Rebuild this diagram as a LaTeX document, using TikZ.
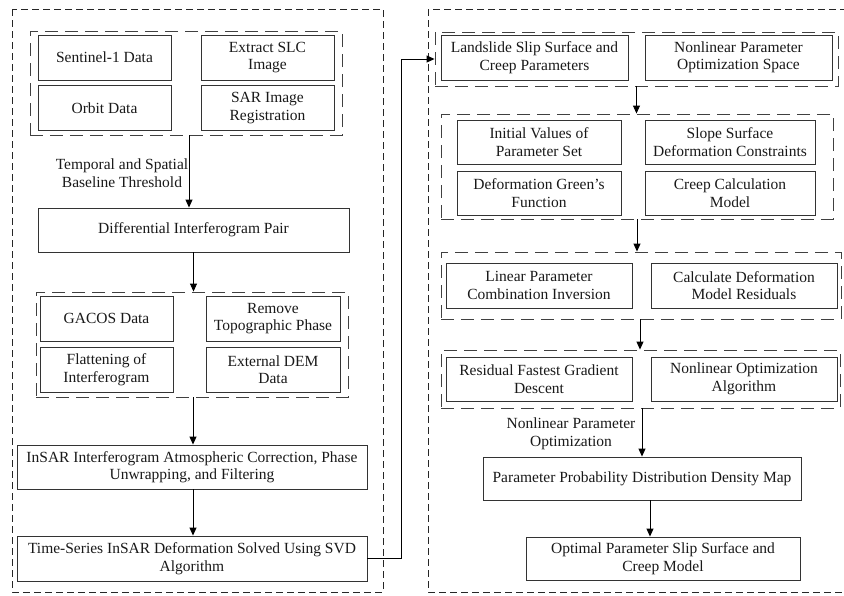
\documentclass[tikz,border=0pt]{standalone}
\usepackage{fontspec}
\setmainfont{Liberation Serif}
\usetikzlibrary{arrows.meta}
\tikzset{
  box/.style={draw=black!80,line width=0.9pt,align=center,inner sep=1pt,
    minimum width=133pt,minimum height=45pt,text=black!90,
    font=\fontsize{15.5}{17.5}\selectfont},
  grp/.style={draw=black!75,line width=0.9pt,dash pattern=on 13pt off 7pt,
    minimum width=312pt,minimum height=104pt},
  frame/.style={draw=black!85,line width=0.9pt,dash pattern=on 7pt off 4pt},
  lbl/.style={align=center,text=black!90,font=\fontsize{15.5}{17.5}\selectfont},
  arr/.style={-{Triangle[length=8pt,width=7pt]},line width=0.9pt}
}

\begin{document}
\begin{tikzpicture}[x=1pt,y=-1pt]
\useasboundingbox (0,0) rectangle (844,595);
\clip (0,0) rectangle (844,595);
\draw[frame] (12,9) rectangle (383,592);
\draw[frame] (428,9) rectangle (852,592);
% left column
\node[grp] (g1) at (186,83) {};
\node[box] (sent) at (104.5,57.5) {Sentinel-1 Data};
\node[box] (orbit) at (104.5,108) {Orbit Data};
\node[box] (slc) at (267.5,57.5) {Extract SLC\\Image};
\node[box] (reg) at (267.5,108) {SAR Image\\Registration};
\node[lbl] (thr) at (122,173) {Temporal and Spatial\\Baseline Threshold};
\node[box,minimum width=311pt,minimum height=44pt] (diff) at (193.5,230) {Differential Interferogram Pair};
\node[grp,minimum height=105pt] (g2) at (192,344.5) {};
\node[box] (gacos) at (106.5,318.5) {GACOS Data};
\node[box] (flat) at (106.5,369.5) {Flattening of\\Interferogram};
\node[box,minimum width=134pt] (topo) at (273,318.5) {Remove\\Topographic Phase};
\node[box,minimum width=134pt] (dem) at (273,369.5) {External DEM\\Data};
\node[box,minimum width=350pt,minimum height=44pt] (atm) at (192,467) {InSAR Interferogram Atmospheric Correction, Phase\\Unwrapping, and Filtering};
\node[box,minimum width=350pt] (svd) at (192,558.5) {Time-Series InSAR Deformation Solved Using SVD\\Algorithm};
% right column
\node[grp,minimum width=403pt,minimum height=54pt] (gA) at (636.5,59) {};
\node[box,minimum width=187pt] (slip) at (534.5,57.5) {Landslide Slip Surface and\\Creep Parameters};
\node[box,minimum width=187pt] (space) at (738.5,57.5) {Nonlinear Parameter\\Optimization Space};
\node[grp,minimum width=392pt,minimum height=105pt] (gB) at (637,166.5) {};
\node[box,minimum width=164pt,minimum height=44pt] (init) at (539,142) {Initial Values of\\Parameter Set};
\node[box,minimum width=164pt,minimum height=44pt] (green) at (539,193) {Deformation Green's\\Function};
\node[box,minimum width=170pt,minimum height=44pt] (slope) at (730,142) {Slope Surface\\Deformation Constraints};
\node[box,minimum width=170pt,minimum height=44pt] (creep) at (730,193) {Creep Calculation\\Model};
\node[grp,minimum width=400pt,minimum height=67pt] (gC) at (641,285.5) {};
\node[box,minimum width=186pt] (lin) at (539,285.5) {Linear Parameter\\Combination Inversion};
\node[box,minimum width=186pt] (res) at (744,285.5) {Calculate Deformation\\Model Residuals};
\node[grp,minimum width=399pt,minimum height=58pt] (gD) at (640.5,379) {};
\node[box,minimum width=186pt,minimum height=44pt] (desc) at (539,379) {Residual Fastest Gradient\\Descent};
\node[box,minimum width=186pt,minimum height=44pt] (alg) at (744,379) {Nonlinear Optimization\\Algorithm};
\node[lbl] (nlo) at (571,434) {Nonlinear Parameter\\Optimization};
\node[box,minimum width=318pt,minimum height=43pt] (prob) at (642,478.5) {Parameter Probability Distribution Density Map};
\node[box,minimum width=274pt,minimum height=43pt] (opt) at (663,558.5) {Optimal Parameter Slip Surface and\\Creep Model};
% connectors
\draw[arr] ([xshift=3pt]g1.south) -- ([xshift=3pt]g1.south |- diff.north);
\draw[arr] (diff.south) -- (diff.south |- g2.north);
\draw[arr] ([xshift=1pt]g2.south) -- ([xshift=1pt]g2.south |- atm.north);
\draw[arr] ([xshift=1pt]atm.south) -- ([xshift=1pt]atm.south |- svd.north);
\draw[arr] (svd.east) -- (401,558.5) |- (gA.west);
\draw[arr] (gA.south) -- (gA.south |- gB.north);
\draw[arr] (gB.south) -- (gB.south |- gC.north);
\draw[arr] ([xshift=-1pt]gC.south) -- ([xshift=-1pt]gC.south |- gD.north);
\draw[arr] ([xshift=1.5pt]gD.south) -- ([xshift=1.5pt]gD.south |- prob.north);
\draw[arr] ([xshift=8pt]prob.south) -- ([xshift=8pt]prob.south |- opt.north);
\end{tikzpicture}
\end{document}
